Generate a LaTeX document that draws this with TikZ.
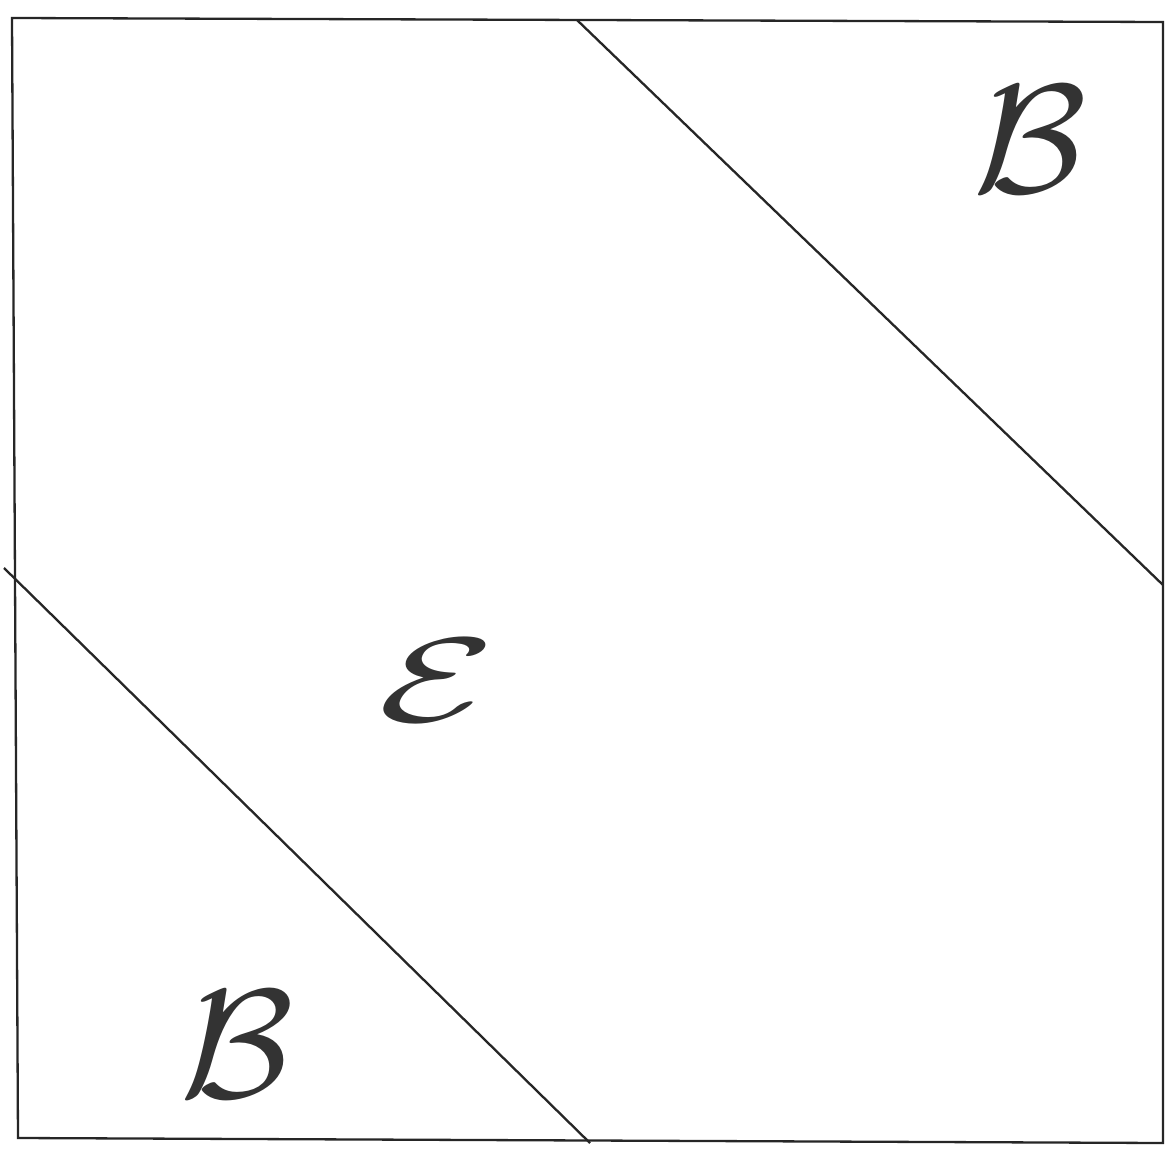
\documentclass[tikz,border=0pt]{standalone}
\usepackage{graphicx}
\begin{document}
\begin{tikzpicture}[x=1pt,y=-1pt,
  edge/.style={line width=2.3pt,black!85},
  letter/.style={inner sep=0pt,text=black!80}]
\useasboundingbox[fill=white] (0,0) rectangle (1165,1153);
\coordinate (tl) at (12,18);
\coordinate (tr) at (1163,22);
\coordinate (br) at (1163,1143);
\coordinate (bl) at (18,1138);
\draw[edge] (tl) -- (tr) -- (br) -- (bl) -- cycle;
\coordinate (d1a) at (577,20);
\coordinate (d1b) at (1163,585);
\coordinate (d2a) at (4,568);
\coordinate (d2b) at (590,1143);
\draw[edge] (d1a) -- (d1b);
\draw[edge] (d2a) -- (d2b);
\node[letter] (b1) at (1030,140) {\scalebox{16.5}[15.5]{$\mathcal{B}$}};
\node[letter] (e) at (437,680) {\scalebox{19}[12]{$\mathcal{E}$}};
\node[letter] (b2) at (237,1045) {\scalebox{16.5}[15.5]{$\mathcal{B}$}};
\end{tikzpicture}
\end{document}
